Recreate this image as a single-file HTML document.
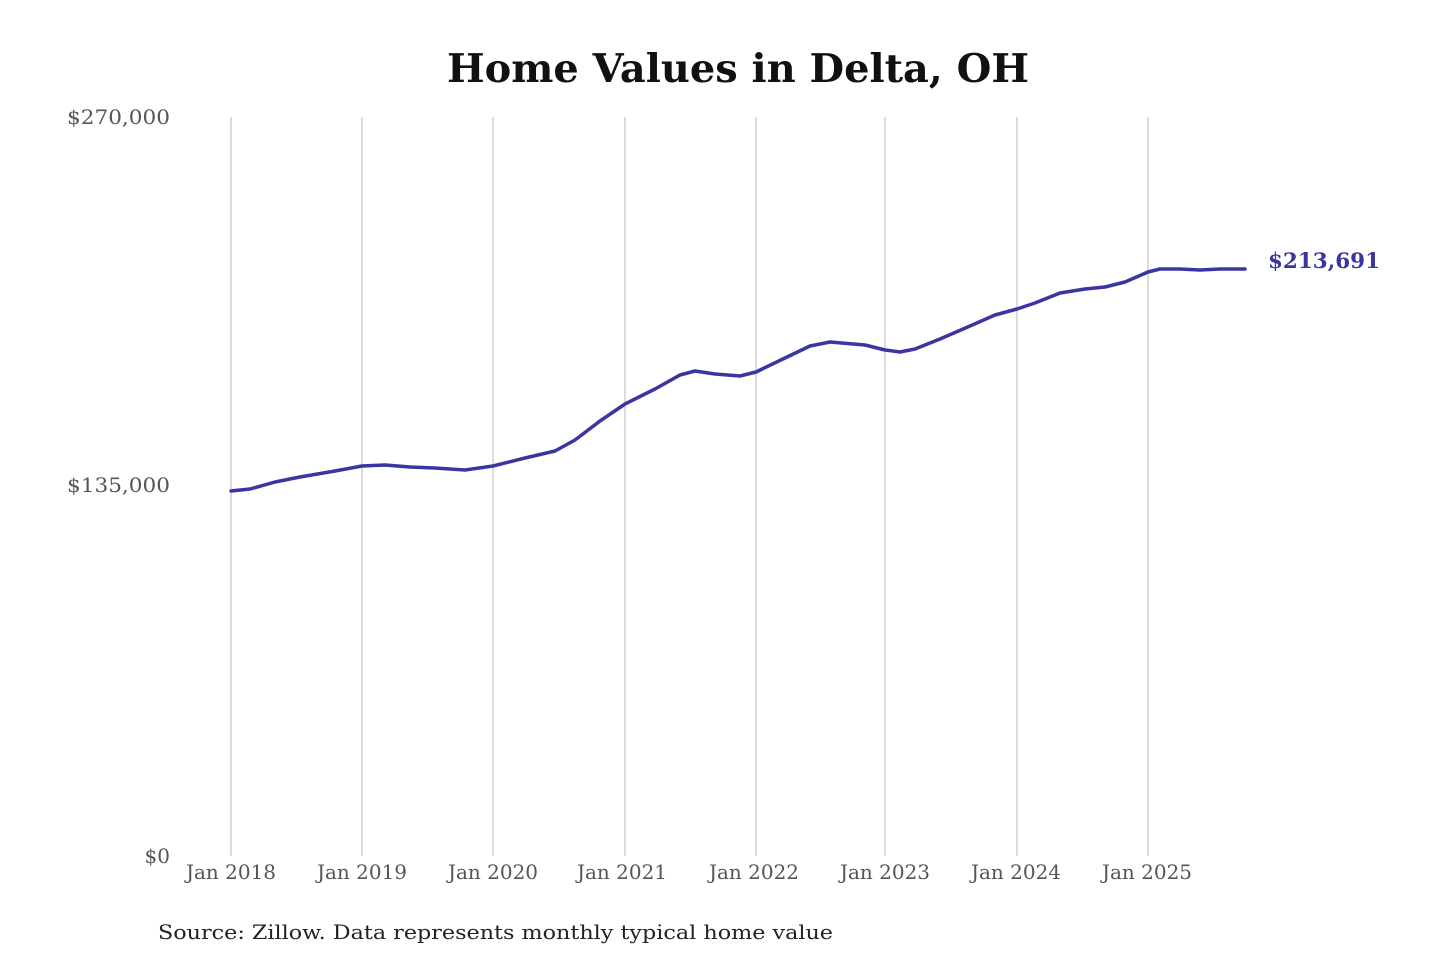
<!DOCTYPE html>
<html><head><meta charset="utf-8"><style>
html,body{margin:0;padding:0;background:#fff;}
svg text{font-family:"DejaVu Serif","Liberation Serif",serif;}
</style></head><body>
<svg width="1440" height="960" viewBox="0 0 1440 960" xmlns="http://www.w3.org/2000/svg">
<rect width="1440" height="960" fill="#fff"/>
<text x="447" y="82" font-size="39" font-weight="bold" fill="#111" textLength="582" lengthAdjust="spacingAndGlyphs">Home Values in Delta, OH</text>
<g stroke="#c8c8c8" stroke-width="1.3">
<line x1="231" y1="117" x2="231" y2="856"/>
<line x1="362" y1="117" x2="362" y2="856"/>
<line x1="493" y1="117" x2="493" y2="856"/>
<line x1="625" y1="117" x2="625" y2="856"/>
<line x1="756" y1="117" x2="756" y2="856"/>
<line x1="885" y1="117" x2="885" y2="856"/>
<line x1="1017" y1="117" x2="1017" y2="856"/>
<line x1="1148" y1="117" x2="1148" y2="856"/>
</g>
<g font-size="20" fill="#555" text-anchor="end">
<text x="170" y="124" textLength="103" lengthAdjust="spacingAndGlyphs">$270,000</text>
<text x="170" y="492" textLength="103" lengthAdjust="spacingAndGlyphs">$135,000</text>
<text x="170" y="863">$0</text>
</g>
<g font-size="20" fill="#555" text-anchor="middle">
<text x="231" y="879">Jan 2018</text>
<text x="362" y="879">Jan 2019</text>
<text x="493" y="879">Jan 2020</text>
<text x="622" y="879">Jan 2021</text>
<text x="754" y="879">Jan 2022</text>
<text x="885" y="879">Jan 2023</text>
<text x="1016" y="879">Jan 2024</text>
<text x="1147" y="879">Jan 2025</text>
</g>
<polyline fill="none" stroke="#3b35a0" stroke-width="3.5" stroke-linejoin="round" stroke-linecap="round"
points="231,491 250,489 275,482 300,477 335,471 362,466 385,465 410,467 435,468 465,470 493,466 525,458 555,451 575,440 600,421 625,404 655,389 680,375 695,371 715,374 740,376 756,372 785,358 810,346 830,342 865,345 885,350 900,352 915,349 940,339 970,326 995,315 1017,309 1035,303 1060,293 1085,289 1105,287 1125,282 1148,272 1160,269 1180,269 1200,270 1220,269 1245,269"/>
<text x="1268" y="268" font-size="21" font-weight="bold" fill="#3b35a0" textLength="112" lengthAdjust="spacingAndGlyphs">$213,691</text>
<text x="158" y="939" font-size="20" fill="#222" textLength="675" lengthAdjust="spacingAndGlyphs">Source: Zillow. Data represents monthly typical home value</text>
</svg>
</body></html>
